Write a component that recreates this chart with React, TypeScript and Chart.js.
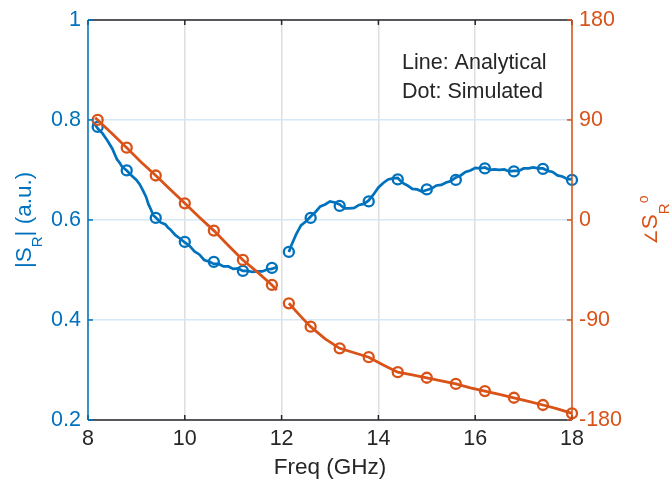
import React, { useEffect, useRef } from "react";
import { Chart, registerables } from "chart.js";

Chart.register(...registerables);

// ---- data -------------------------------------------------------------
// Frequency ticks / value ticks
const freqTicks = [8, 10, 12, 14, 16, 18];
const magTicks = [0.2, 0.4, 0.6, 0.8, 1];
const phaseTicks = [-180, -90, 0, 90, 180];

// Analytical |S_R| (null = no solution in the 12 GHz band gap)
const magFreq = [
  8.1, 8.15, 8.2, 8.3, 8.4, 8.5, 8.6, 8.65, 8.7, 8.8, 8.9, 9.0, 9.07, 9.15, 9.2, 9.25, 9.3, 9.35, 9.4,
  9.5, 9.6, 9.65, 9.7, 9.8, 9.9, 10.0, 10.1, 10.2, 10.3, 10.4, 10.5, 10.6, 10.7, 10.8, 10.9, 11.0,
  11.1, 11.2, 11.3, 11.4, 11.5, 11.6, 11.7, 11.8, 11.9, 12.0,
  12.15, 12.2, 12.3, 12.4, 12.5, 12.6, 12.7, 12.8, 12.9, 13.0, 13.1, 13.2, 13.3, 13.4, 13.5, 13.6,
  13.7, 13.8, 13.9, 14.0, 14.1, 14.2, 14.3, 14.4, 14.5, 14.6, 14.7, 14.8, 14.9, 15.0, 15.1, 15.2,
  15.3, 15.4, 15.5, 15.6, 15.7, 15.8, 15.9, 16.0, 16.1, 16.2, 16.3, 16.4, 16.5, 16.6, 16.7, 16.8,
  16.9, 17.0, 17.1, 17.2, 17.3, 17.4, 17.5, 17.6, 17.7, 17.8, 17.9, 18.0,
];
const magAnalytic = [
  0.795, 0.79, 0.783, 0.773, 0.759, 0.743, 0.721, 0.715, 0.707, 0.699, 0.689, 0.68, 0.671, 0.656, 0.646, 0.631, 0.621, 0.609, 0.605,
  0.595, 0.591, 0.585, 0.581, 0.57, 0.563, 0.555, 0.548, 0.537, 0.531, 0.52, 0.517, 0.512, 0.512, 0.507, 0.507, 0.502,
  0.503, 0.498, 0.498, 0.496, 0.497, 0.497, 0.501, 0.502, 0.506, null,
  0.536, 0.549, 0.571, 0.589, 0.597, 0.607, 0.616, 0.627, 0.631, 0.637, 0.635, 0.631, 0.623, 0.623, 0.624, 0.63,
  0.632, 0.639, 0.651, 0.665, 0.674, 0.681, 0.683, 0.684, 0.674, 0.669, 0.662, 0.661, 0.657, 0.66, 0.663, 0.669,
  0.67, 0.675, 0.678, 0.685, 0.689, 0.696, 0.699, 0.704, 0.703, 0.705, 0.7, 0.701, 0.7, 0.701, 0.697, 0.698,
  0.698, 0.703, 0.703, 0.705, 0.703, 0.703, 0.698, 0.696, 0.689, 0.687, 0.682, 0.681,
];

// Analytical phase of S_R (degrees)
const phaseFreq = [
  8.15, 8.2, 8.5, 8.8, 9.1, 9.4, 9.7, 10.0, 10.3, 10.6, 10.9, 11.2, 11.5, 11.8, 11.9, 12.0,
  12.15, 12.4, 12.6, 12.9, 13.2, 13.5, 13.8, 14.1, 14.4, 14.7, 15.0, 15.3, 15.6, 15.9, 16.2, 16.5,
  16.8, 17.1, 17.4, 17.7, 18.0,
];
const phaseAnalytic = [
  92, 90, 77.5, 65, 52, 40, 27.5, 15, 2.5, -9.6, -23, -36, -47, -58.5, -63, null,
  -75, -87, -96, -107, -115.5, -119.5, -123.5, -130.5, -137, -139.5, -142, -144.8, -147.5, -151, -154, -157,
  -160, -163.3, -166.5, -170, -174,
];

// Simulated points
const simFreq = [8.2, 8.8, 9.4, 10, 10.6, 11.2, 11.8, 12.15, 12.6, 13.2, 13.8, 14.4, 15, 15.6, 16.2, 16.8, 17.4, 18];
const magSim = [0.786, 0.699, 0.604, 0.556, 0.516, 0.498, 0.504, 0.536, 0.604, 0.628, 0.637, 0.681, 0.661, 0.68, 0.703, 0.697, 0.702, 0.68];
const phaseSim = [90, 65, 40, 15, -9.6, -36, -58.5, -75, -96, -115.5, -123.5, -137, -142, -147.5, -154, -160, -166.5, -174];

// ---- styling ------------------------------------------------------------
const W = 672;
const H = 486;
const AREA = { left: 88, right: 572, top: 15, bottom: 420 };
const BLUE = "#0072BD";
const ORANGE = "#D95319";
const DARK = "#262626";
const FAMILY = '"Liberation Sans", Arial, "DejaVu Sans", sans-serif';
const TICK_FONT = 21.5;
const TITLE_FONT = 22.5;
const TICK_LEN = 5;

type Seg = { text: string; size: number; dy: number; family?: string };

function drawRich(ctx: CanvasRenderingContext2D, segs: Seg[], x: number, y: number, rotate: boolean, color: string) {
  ctx.save();
  ctx.translate(x, y);
  if (rotate) ctx.rotate(-Math.PI / 2);
  ctx.fillStyle = color;
  ctx.textBaseline = "alphabetic";
  ctx.textAlign = "left";
  let total = 0;
  const widths = segs.map((s) => {
    ctx.font = `${s.size}px ${s.family || FAMILY}`;
    const w = ctx.measureText(s.text).width;
    total += w;
    return w;
  });
  let cx = -total / 2;
  segs.forEach((s, i) => {
    ctx.font = `${s.size}px ${s.family || FAMILY}`;
    ctx.fillText(s.text, cx, s.dy);
    cx += widths[i];
  });
  ctx.restore();
}

const framePlugin = {
  id: "frame",
  afterDatasetsDraw(chart: any) {
    const { ctx, chartArea: a, scales } = chart;
    const seg = (x1: number, y1: number, x2: number, y2: number) => {
      ctx.beginPath();
      ctx.moveTo(x1, y1);
      ctx.lineTo(x2, y2);
      ctx.stroke();
    };
    ctx.save();
    ctx.lineWidth = 1.5;
    ctx.strokeStyle = DARK;
    seg(a.left, a.bottom, a.right, a.bottom);
    seg(a.left, a.top, a.right, a.top);
    for (const v of freqTicks) {
      const px = scales.x.getPixelForValue(v);
      seg(px, a.bottom, px, a.bottom - TICK_LEN);
      seg(px, a.top, px, a.top + TICK_LEN);
    }
    ctx.strokeStyle = BLUE;
    seg(a.left, a.top, a.left, a.bottom);
    for (const v of magTicks) {
      const py = scales.yMag.getPixelForValue(v);
      seg(a.left, py, a.left + TICK_LEN, py);
    }
    ctx.strokeStyle = ORANGE;
    seg(a.right, a.top, a.right, a.bottom);
    for (const v of phaseTicks) {
      const py = scales.yPhase.getPixelForValue(v);
      seg(a.right, py, a.right - TICK_LEN, py);
    }
    ctx.restore();
  },
  afterDraw(chart: any) {
    const { ctx, chartArea: a } = chart;
    const midY = (a.top + a.bottom) / 2;
    // left axis title: |S_R| (a.u.)
    drawRich(
      ctx,
      [
        { text: "|S", size: TITLE_FONT, dy: 0 },
        { text: "R", size: 15, dy: 11 },
        { text: "| (a.u.)", size: TITLE_FONT, dy: 0 },
      ],
      31,
      midY,
      true,
      BLUE
    );
    // right axis title: angle of S_R in degrees
    drawRich(
      ctx,
      [
        { text: "\u2220", size: 17, dy: 0, family: '"DejaVu Sans", sans-serif' },
        { text: "S", size: TITLE_FONT, dy: 0 },
        { text: "R", size: 15, dy: 12 },
        { text: "o", size: 14, dy: -9 },
      ],
      657,
      midY,
      true,
      ORANGE
    );
    // x axis title
    ctx.save();
    ctx.fillStyle = DARK;
    ctx.font = `${TITLE_FONT}px ${FAMILY}`;
    ctx.textAlign = "center";
    ctx.textBaseline = "alphabetic";
    ctx.fillText("Freq (GHz)", (a.left + a.right) / 2, 474);
    // annotation
    ctx.font = `${TICK_FONT}px ${FAMILY}`;
    ctx.textAlign = "left";
    ctx.fillText("Line: Analytical", 402, 69);
    ctx.fillText("Dot: Simulated", 402, 98);
    ctx.restore();
  },
};

const tickFont = { family: FAMILY, size: TICK_FONT };

export default function App() {
  const canvasRef = useRef<HTMLCanvasElement | null>(null);

  useEffect(() => {
    const canvas = canvasRef.current;
    if (!canvas) return;
    const pts = (xs: number[], ys: (number | null)[]) => xs.map((x, i) => ({ x, y: ys[i] }));

    const chart = new Chart(canvas, {
      type: "line",
      data: {
        datasets: [
          {
            label: "phase analytical",
            data: pts(phaseFreq, phaseAnalytic) as any,
            yAxisID: "yPhase",
            borderColor: ORANGE,
            borderWidth: 2.8,
            pointRadius: 0,
            spanGaps: false,
            clip: false as any,
          },
          {
            label: "phase simulated",
            data: pts(simFreq, phaseSim) as any,
            yAxisID: "yPhase",
            showLine: false,
            pointStyle: "circle",
            pointRadius: 5,
            pointBorderWidth: 2.3,
            pointBorderColor: ORANGE,
            pointBackgroundColor: "rgba(0,0,0,0)",
            clip: false as any,
          },
          {
            label: "magnitude analytical",
            data: pts(magFreq, magAnalytic) as any,
            yAxisID: "yMag",
            borderColor: BLUE,
            borderWidth: 2.7,
            pointRadius: 0,
            spanGaps: false,
            clip: false as any,
          },
          {
            label: "magnitude simulated",
            data: pts(simFreq, magSim) as any,
            yAxisID: "yMag",
            showLine: false,
            pointStyle: "circle",
            pointRadius: 5,
            pointBorderWidth: 2.3,
            pointBorderColor: BLUE,
            pointBackgroundColor: "rgba(0,0,0,0)",
            clip: false as any,
          },
        ],
      },
      options: {
        responsive: false,
        animation: false,
        devicePixelRatio: 1,
        events: [],
        layout: { padding: { top: AREA.top, left: 0, right: 0, bottom: 0 } },
        plugins: { legend: { display: false }, tooltip: { enabled: false } },
        scales: {
          x: {
            type: "linear",
            min: 8,
            max: 18,
            afterBuildTicks: (s: any) => {
              s.ticks = freqTicks.map((v) => ({ value: v }));
            },
            afterFit: (s: any) => {
              s.height = H - AREA.bottom;
            },
            ticks: { color: DARK, font: tickFont, padding: 6, maxRotation: 0 },
            grid: { color: "#dedede", lineWidth: 1.5, drawTicks: false },
            border: { display: false },
          },
          yMag: {
            type: "linear",
            position: "left",
            min: 0.2,
            max: 1,
            afterBuildTicks: (s: any) => {
              s.ticks = magTicks.map((v) => ({ value: v }));
            },
            afterFit: (s: any) => {
              s.width = AREA.left;
            },
            ticks: { color: BLUE, font: tickFont, padding: 7, callback: (v: any) => String(Number(v.toFixed(1))) },
            grid: { color: "rgb(214,232,245)", lineWidth: 1.5, drawTicks: false },
            border: { display: false },
          },
          yPhase: {
            type: "linear",
            position: "right",
            min: -180,
            max: 180,
            afterBuildTicks: (s: any) => {
              s.ticks = phaseTicks.map((v) => ({ value: v }));
            },
            afterFit: (s: any) => {
              s.width = W - AREA.right;
            },
            ticks: { color: ORANGE, font: tickFont, padding: 7 },
            grid: { drawOnChartArea: false, drawTicks: false },
            border: { display: false },
          },
        },
      } as any,
      plugins: [framePlugin as any],
    });
    return () => chart.destroy();
  }, []);

  return (
    <div style={{ position: "absolute", left: 0, top: 0, width: W, height: H, background: "#fff" }}>
      <canvas ref={canvasRef} width={W} height={H} style={{ display: "block" }} />
    </div>
  );
}
